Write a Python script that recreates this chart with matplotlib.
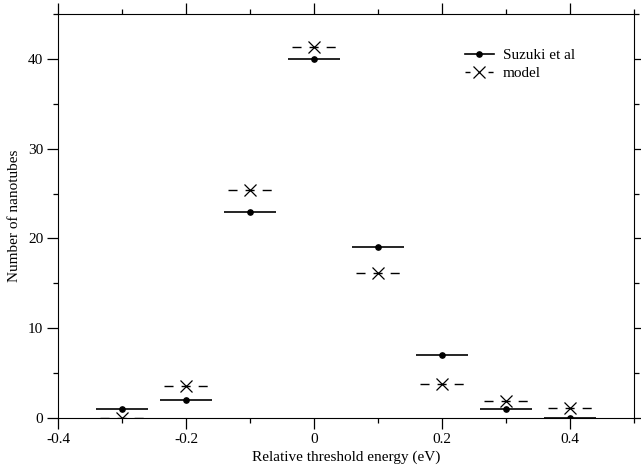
import numpy as np
import matplotlib.pyplot as plt
from matplotlib.lines import Line2D
from matplotlib.ticker import MultipleLocator

# threshold energy bins (eV) and counts
energy = [-0.3, -0.2, -0.1, 0.0, 0.1, 0.2, 0.3, 0.4]
suzuki = [1, 2, 23, 40, 19, 7, 1, 0]
model = [0.0, 3.6, 25.4, 41.3, 16.1, 3.75, 1.9, 1.1]
suzuki_half = 0.04
model_half = 0.034

plt.rcParams['font.family'] = ['Liberation Serif', 'DejaVu Serif']

fig = plt.figure(figsize=(6.41, 4.72), dpi=100)
ax = fig.add_axes([58 / 641, 54 / 472, 576 / 641, 404 / 472])

dash = (0, (6.5, 5.8))

ax.errorbar(energy, suzuki, xerr=suzuki_half, fmt='o', color='black', ms=3.8,
            elinewidth=1.2, capsize=0)
eb = ax.errorbar(energy, model, xerr=model_half, fmt='x', color='black', ms=8,
                 mew=0.9, elinewidth=1.0, capsize=0)
eb[2][0].set_linestyle(dash)

ax.set_xlim(-0.4, 0.5)
ax.set_ylim(0, 45)
ax.xaxis.set_minor_locator(MultipleLocator(0.1))
ax.yaxis.set_major_locator(MultipleLocator(10))
ax.yaxis.set_minor_locator(MultipleLocator(5))
ax.set_xticks([-0.4, -0.2, 0, 0.2, 0.4])
ax.set_xticklabels(['-0.4', '-0.2', '0', '0.2', '0.4'])
ax.tick_params(which='both', direction='out', top=True, right=True,
               labelsize=11, width=0.9, pad=3)
ax.tick_params(which='major', length=7.7)
ax.tick_params(which='minor', length=3.6)

ax.set_xlabel('Relative threshold energy (eV)', fontsize=11, labelpad=3)
ax.set_ylabel('Number of nanotubes', fontsize=11)
ax.yaxis.set_label_coords(-0.064, 0.5)

# legend keys: solid line with dot, short dashes either side of a cross
handles = [
    Line2D([], [], color='black', lw=1.2, marker='o', ms=3.8),
    Line2D([], [], color='black', lw=1.0, ls=(0, (3.6, 13)), marker='x',
           ms=8, mew=0.9),
]
ax.legend(handles, ['Suzuki et al', 'model'], loc='upper left',
          bbox_to_anchor=(0.706, 0.915), frameon=False, fontsize=11,
          handlelength=1.9, handletextpad=0.6, labelspacing=0.3,
          borderaxespad=0, borderpad=0)

fig.savefig('out.png', dpi=100)
